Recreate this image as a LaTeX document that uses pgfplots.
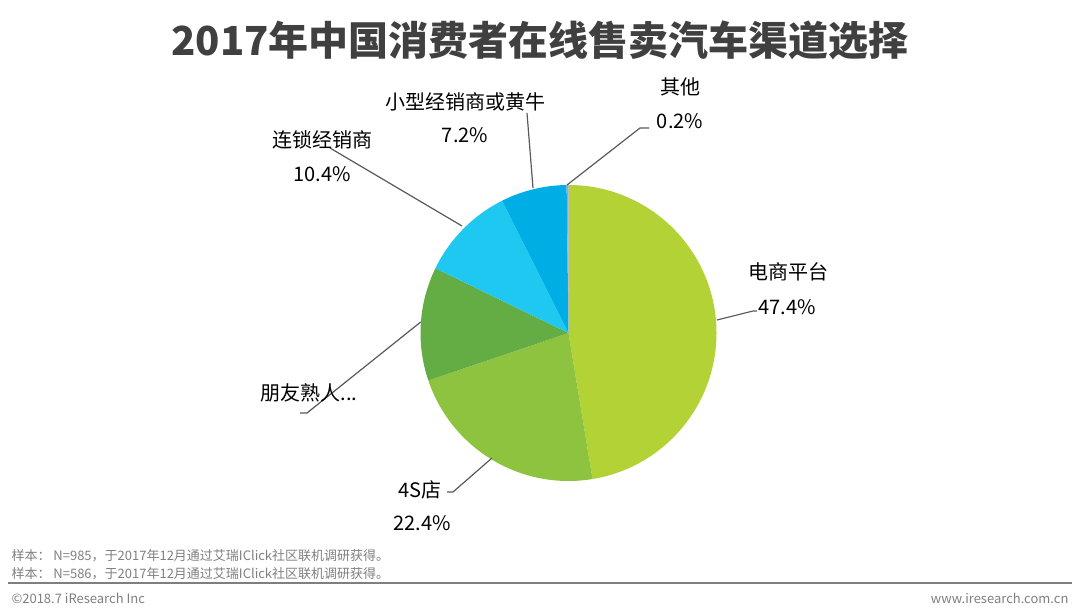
\documentclass[border=0pt]{standalone}
\usepackage{pgfplots}
\usepackage{pgfplotstable}
\pgfplotsset{compat=1.18}
\usepackage{fontspec}
\setmainfont{Noto Sans CJK SC}

\definecolor{cDs}{HTML}{B3D236}
\definecolor{cFs}{HTML}{8DC33F}
\definecolor{cPy}{HTML}{64AD44}
\definecolor{cLs}{HTML}{1FC8F0}
\definecolor{cXx}{HTML}{00AEE6}
\definecolor{cQt}{HTML}{A7A2B8}
\definecolor{txt}{HTML}{595959}
\definecolor{ttl}{HTML}{404040}
\definecolor{foot}{HTML}{7F7F7F}

% share of each channel, clockwise from 12 o'clock
\pgfplotstableread{
pct  col
47.4 cDs
22.4 cFs
12.4 cPy
10.4 cLs
7.2  cXx
0.2  cQt
}\piedata

\begin{document}
\begin{tikzpicture}
\useasboundingbox (0,0) rectangle (1080pt,615pt);
\begin{axis}[
  at={(0,0)}, anchor=south west,
  width=1080pt, height=615pt, scale only axis,
  xmin=0, xmax=1080, ymin=0, ymax=615,
  hide axis, clip=false,
  every node/.style={text=txt, inner sep=0pt},
]
\xdef\cum{90}
\pgfplotsforeachungrouped \i in {0,...,5}{%
  \pgfplotstablegetelem{\i}{pct}\of\piedata \let\p\pgfplotsretval
  \pgfplotstablegetelem{\i}{col}\of\piedata \let\c\pgfplotsretval
  \pgfmathsetmacro\a{\cum}%
  \pgfmathsetmacro\b{\cum-3.6*\p}%
  \edef\tmp{\noexpand\fill[\c] (axis cs:568.5,282) -- ++(\a:148pt)
    arc[start angle=\a, end angle=\b, radius=148pt] -- cycle;}%
  \tmp
  \xdef\cum{\b}%
}

% leader lines
\draw[txt, line width=1.2pt] (axis cs:567,430) -- (axis cs:640,487) -- (axis cs:649,487);
\draw[txt, line width=1.2pt] (axis cs:533,427) -- (axis cs:527,502);
\draw[txt, line width=1.2pt] (axis cs:330,467) -- (axis cs:462,389);
\draw[txt, line width=1.2pt] (axis cs:300,202) -- (axis cs:307,202) -- (axis cs:420.7,293);
\draw[txt, line width=1.2pt] (axis cs:447,123) -- (axis cs:453,123) -- (axis cs:492,157);
\draw[txt, line width=1.2pt] (axis cs:717,295) -- (axis cs:753,304) -- (axis cs:757,304);

% labels
\begin{scope}[font=\fontsize{20}{24}\selectfont]
\node at (axis cs:680,528) {其他};
\node at (axis cs:680,494) {0.2\%};
\node at (axis cs:465,513) {小型经销商或黄牛};
\node at (axis cs:465,480) {7.2\%};
\node at (axis cs:322,475) {连锁经销商};
\node at (axis cs:322,441) {10.4\%};
\node at (axis cs:309,222) {朋友熟人...};
\node at (axis cs:420,125) {4S店};
\node at (axis cs:422,92) {22.4\%};
\node at (axis cs:788,343) {电商平台};
\node at (axis cs:787,308) {47.4\%};
\end{scope}

% title
\node[text=ttl, font=\fontsize{40}{44}\selectfont\bfseries] at (axis cs:540,575)
  {2017年中国消费者在线售卖汽车渠道选择};

% footer
\begin{scope}[font=\fontsize{13}{15}\selectfont]
\node[text=foot, anchor=west] at (axis cs:8,59) {样本： N=985，于2017年12月通过艾瑞IClick社区联机调研获得。};
\node[text=foot, anchor=west] at (axis cs:8,41) {样本： N=586，于2017年12月通过艾瑞IClick社区联机调研获得。};
\draw[foot, line width=1.5pt] (axis cs:8,32) -- (axis cs:1072,32);
\node[text=foot, anchor=west] at (axis cs:8,17) {©2018.7 iResearch Inc};
\node[text=foot, anchor=east] at (axis cs:1072,17) {www.iresearch.com.cn};
\end{scope}
\end{axis}
\end{tikzpicture}
\end{document}
